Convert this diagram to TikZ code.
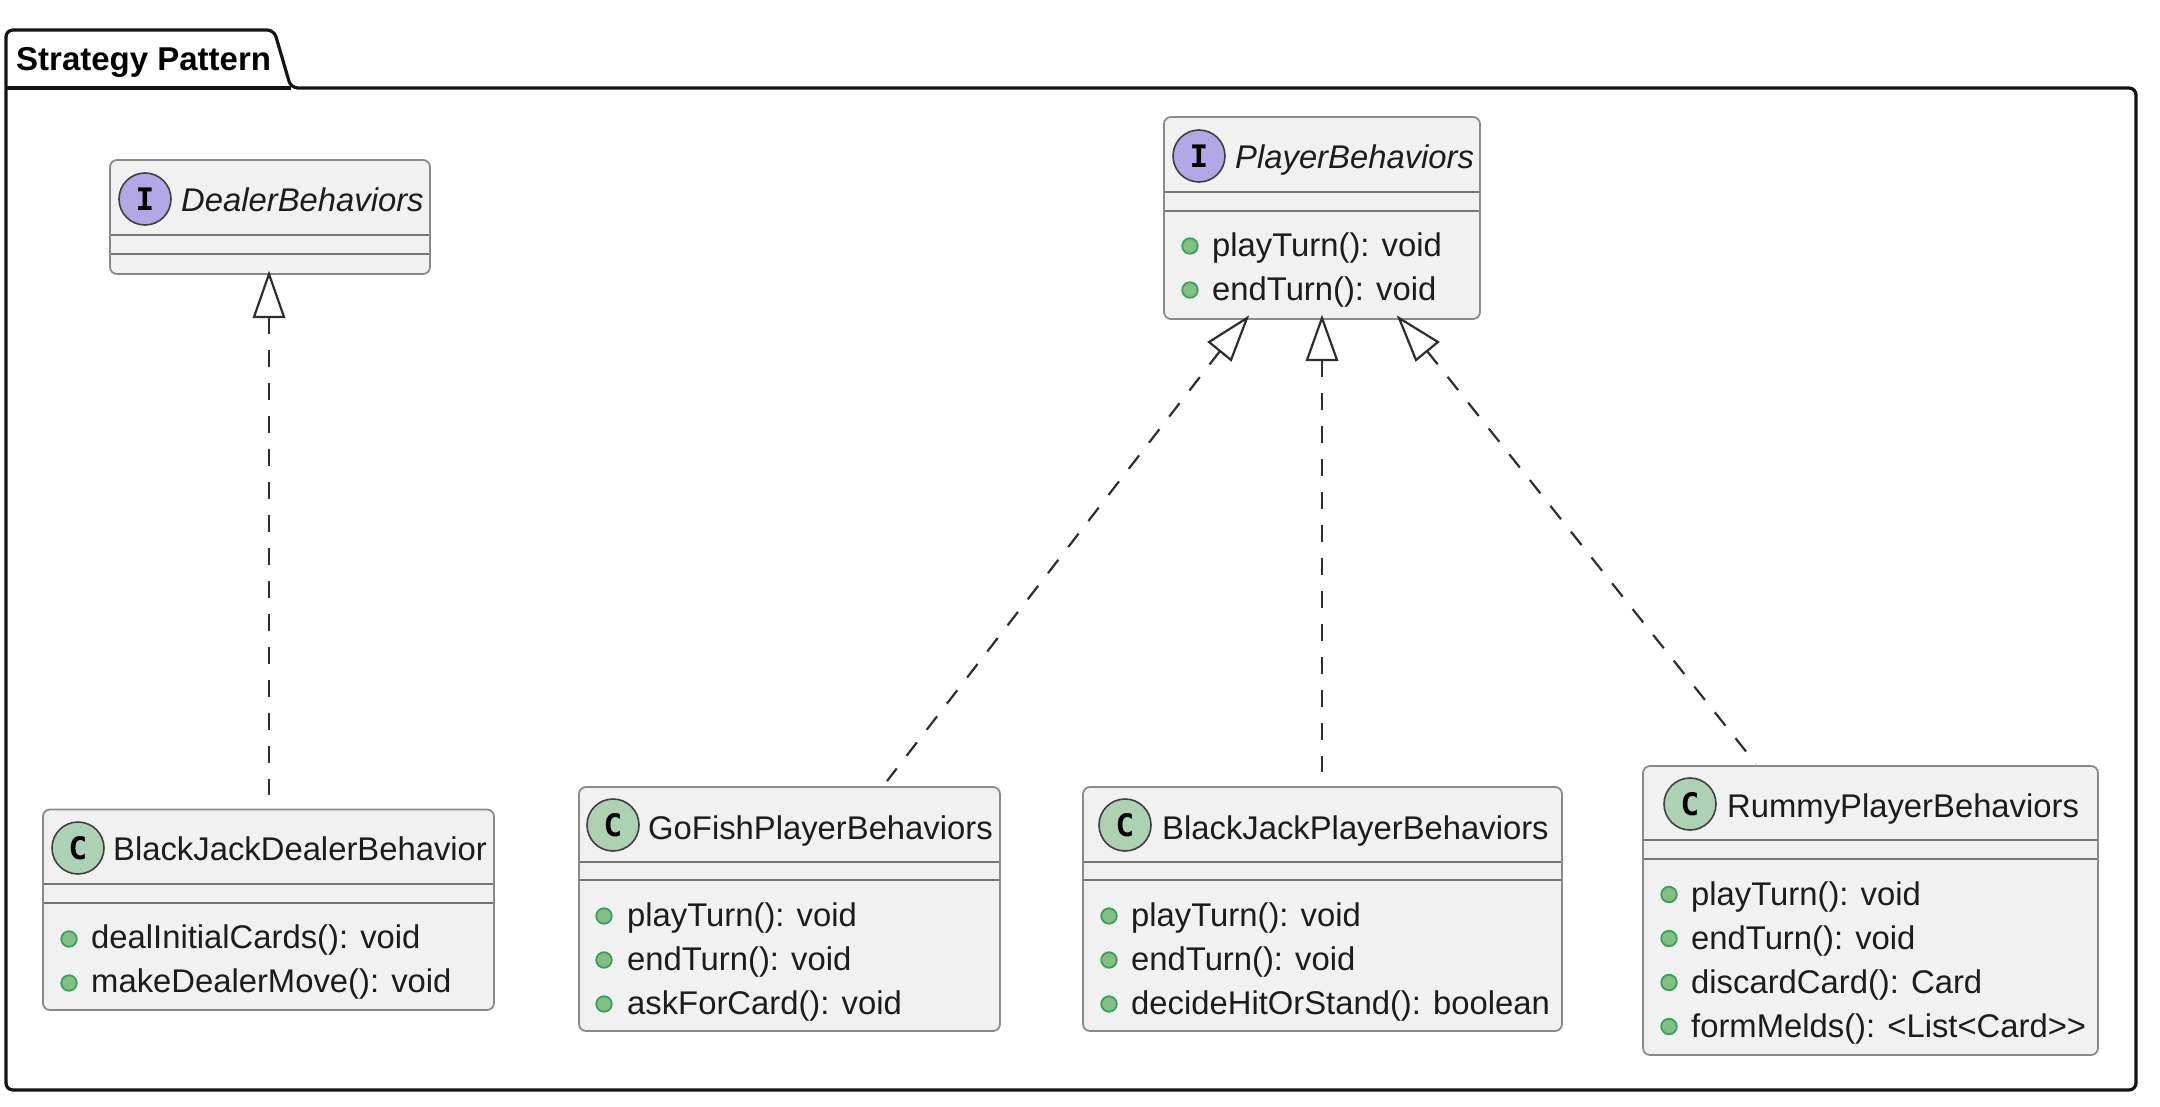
\documentclass[tikz,border=0pt]{standalone}
\usepackage{fontspec}
\setmainfont{Liberation Sans}
\newfontfamily\badgefont{DejaVu Sans Mono}
\usetikzlibrary{arrows.meta}
\definecolor{boxfill}{HTML}{F1F1F1}
\definecolor{boxline}{HTML}{8A8A8A}
\definecolor{pkgline}{HTML}{141414}
\definecolor{ifill}{HTML}{B4A7E5}
\definecolor{cfill}{HTML}{ADD1B2}
\definecolor{mfill}{HTML}{84BE84}
\definecolor{mline}{HTML}{38A05C}
\definecolor{txt}{HTML}{1C1C1C}
\tikzset{
  x=1pt,y=-1pt,
  pkg/.style={draw=pkgline,line width=3.2pt,rounded corners=7pt,line join=round},
  umlbox/.style={draw=boxline,fill=boxfill,line width=1.8pt,rounded corners=7pt},
  sep/.style={draw=boxline!85!black,line width=1.8pt},
  badge/.style={circle,draw=black!75,line width=1.6pt,minimum size=52pt,inner sep=0pt,text=black,font=\fontsize{31}{31}\selectfont\badgefont\bfseries},
  ibadge/.style={badge,fill=ifill},
  cbadge/.style={badge,fill=cfill},
  ttl/.style={anchor=base west,inner sep=0pt,text=txt,font=\fontsize{32.8}{32.8}\selectfont},
  ittl/.style={ttl,font=\fontsize{32.8}{32.8}\selectfont\itshape},
  mem/.style={anchor=base west,inner sep=0pt,text=txt,font=\fontsize{32.8}{32.8}\selectfont},
  dot/.style={circle,draw=mline,fill=mfill,line width=1.8pt,minimum size=15.5pt,inner sep=0pt},
  real/.style={draw=black!82,line width=2.2pt,dash pattern=on 17pt off 16pt},
  tip/.style={draw=black!82,line width=2.2pt,fill=white,line join=miter},
}
\begin{document}
\begin{tikzpicture}
\useasboundingbox (0,0) rectangle (2160,1107);
% package
\draw[pkg] (6,88) -- (6,30) -- (274,30) -- (291,88) -- (2136,88) -- (2136,1090) -- (6,1090) -- cycle;
\draw[pkg] (6,88) -- (291,88);
\node[anchor=base west,inner sep=0pt,text=black,font=\fontsize{33}{33}\selectfont\bfseries] (title) at (16,71) {Strategy Pattern};
% Dealer interface
\draw[umlbox] (110,160) rectangle (430,274);
\draw[sep] (111,235) -- (429,235); \draw[sep] (111,254) -- (429,254);
\node[ibadge] (dI) at (145,199) {I};
\node[ittl] (dT) at (181,212) {DealerBehaviors};
% Player interface
\draw[umlbox] (1164,117) rectangle (1480,319);
\draw[sep] (1165,192) -- (1479,192); \draw[sep] (1165,211) -- (1479,211);
\node[ibadge] (pI) at (1199,156) {I};
\node[ittl] (pT) at (1235,169) {PlayerBehaviors};
\node[dot] (pd1) at (1190,246) {}; \node[mem] (pm1) at (1212,257) {playTurn(): void};
\node[dot] (pd2) at (1190,290) {}; \node[mem] (pm2) at (1212,300.5) {endTurn(): void};
% BlackJackDealerBehavior
\draw[umlbox] (43,809.5) rectangle (494,1010);
\draw[sep] (44,884) -- (493,884); \draw[sep] (44,903) -- (493,903);
\node[cbadge] (aC) at (78,848) {C};
\node[ttl] (aT) at (113,860) {BlackJackDealerBehavior};
\node[dot] (ad1) at (69,939) {}; \node[mem] (am1) at (91,948.5) {dealInitialCards(): void};
\node[dot] (ad2) at (69,983) {}; \node[mem] (am2) at (91,992.5) {makeDealerMove(): void};
% GoFish
\draw[umlbox] (579,787) rectangle (1000,1031);
\draw[sep] (580,862) -- (999,862); \draw[sep] (580,880) -- (999,880);
\node[cbadge] (bC) at (613,825) {C};
\node[ttl] (bT) at (648,839.5) {GoFishPlayerBehaviors};
\node[dot] (bd1) at (604,916) {}; \node[mem] (bm1) at (627,926.5) {playTurn(): void};
\node[dot] (bd2) at (604,960) {}; \node[mem] (bm2) at (627,970.5) {endTurn(): void};
\node[dot] (bd3) at (604,1004) {}; \node[mem] (bm3) at (627,1014.5) {askForCard(): void};
% BlackJackPlayer
\draw[umlbox] (1083,787) rectangle (1562,1031);
\draw[sep] (1084,862) -- (1561,862); \draw[sep] (1084,880) -- (1561,880);
\node[cbadge] (cC) at (1125,825) {C};
\node[ttl] (cT) at (1162,839.5) {BlackJackPlayerBehaviors};
\node[dot] (cd1) at (1109,916) {}; \node[mem] (cm1) at (1131,926.5) {playTurn(): void};
\node[dot] (cd2) at (1109,960) {}; \node[mem] (cm2) at (1131,970.5) {endTurn(): void};
\node[dot] (cd3) at (1109,1004) {}; \node[mem] (cm3) at (1131,1014.5) {decideHitOrStand(): boolean};
% Rummy
\draw[umlbox] (1643,766) rectangle (2098,1055);
\draw[sep] (1644,840) -- (2097,840); \draw[sep] (1644,859) -- (2097,859);
\node[cbadge] (eC) at (1690,804) {C};
\node[ttl] (eT) at (1727,817.5) {RummyPlayerBehaviors};
\node[dot] (ed1) at (1669,894.5) {}; \node[mem] (em1) at (1691,905) {playTurn(): void};
\node[dot] (ed2) at (1669,938.5) {}; \node[mem] (em2) at (1691,949) {endTurn(): void};
\node[dot] (ed3) at (1669,982.5) {}; \node[mem] (em3) at (1691,993) {discardCard(): Card};
\node[dot] (ed4) at (1669,1026.5) {}; \node[mem] (em4) at (1691,1037) {formMelds(): <List<Card>{}>};
% connectors
\coordinate (t0) at (269,274); \coordinate (b0) at (269,317); \coordinate (e0) at (269,795);
\draw[real] (b0) -- (e0);
\draw[tip] (t0) -- (284,317) -- (254,317) -- cycle;
\coordinate (t1) at (1247,318); \coordinate (b1) at (1220,351); \coordinate (e1) at (887,781);
\draw[real] (b1) -- (e1);
\draw[tip] (t1) -- (1231,360) -- (1209,342) -- cycle;
\coordinate (t2) at (1322,318); \coordinate (b2) at (1322,360); \coordinate (e2) at (1322,772);
\draw[real] (b2) -- (e2);
\draw[tip] (t2) -- (1337,360) -- (1307,360) -- cycle;
\coordinate (t3) at (1399,318); \coordinate (b3) at (1427,351); \coordinate (e3) at (1756,764);
\draw[real] (b3) -- (e3);
\draw[tip] (t3) -- (1438,342) -- (1416,360) -- cycle;
\end{tikzpicture}
\end{document}
